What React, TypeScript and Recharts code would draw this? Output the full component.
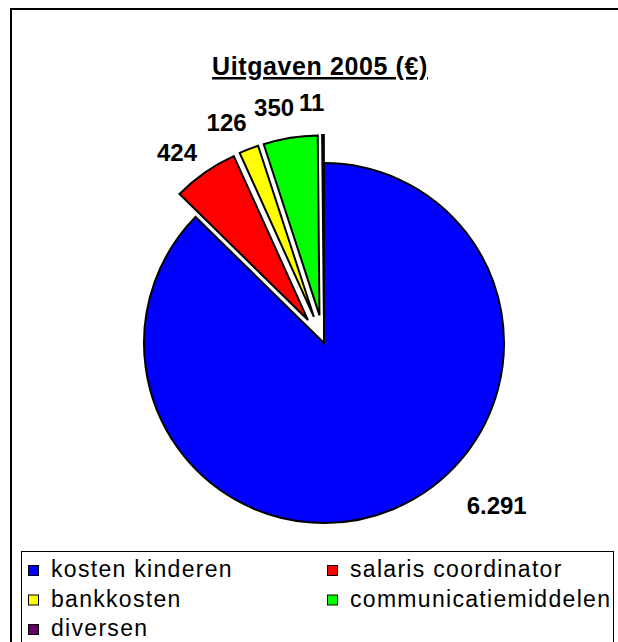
import { PieChart, Pie, Cell, Sector, Legend } from 'recharts';

const categories = ['kosten kinderen', 'salaris coordinator', 'bankkosten', 'communicatiemiddelen', 'diversen'];
const amounts = [6291, 424, 126, 350, 11];
const colors = ['#0000ff', '#ff0000', '#ffff00', '#00ff00', '#660066'];
const exploded = [false, true, true, true, true];

const data = categories.map((name, i) => ({ name, value: amounts[i] }));

const FONT = '"Liberation Sans", Arial, sans-serif';
const RADIAN = Math.PI / 180;
const EXPLODE = 28;

const formatValue = (v: number) => String(v).replace(/\B(?=(\d{3})+(?!\d))/g, '.');

const shiftFor = (name: string, midAngle: number) => {
    const idx = categories.indexOf(name);
    if (!exploded[idx]) return { dx: 0, dy: 0 };
    return {
        dx: EXPLODE * Math.cos(-midAngle * RADIAN),
        dy: EXPLODE * Math.sin(-midAngle * RADIAN),
    };
};

const ExplodedSector = (props: any) => {
    const name = props.name ?? props.payload?.name;
    const { dx, dy } = shiftFor(name, props.midAngle);
    return <Sector {...props} cx={props.cx + dx} cy={props.cy + dy} />;
};

const renderLabel = (props: any) => {
    const { cx, cy, midAngle, outerRadius, value } = props;
    const name = props.name ?? props.payload?.name;
    const big = !exploded[categories.indexOf(name)];
    const { dx, dy } = shiftFor(name, midAngle);
    const angle = (midAngle + (big ? 24 : 3)) * RADIAN;
    const r = outerRadius + (big ? 57 : 33);
    const x = cx + dx + r * Math.cos(-angle);
    const y = cy + dy + r * Math.sin(-angle);
    return (
        <text
            x={x}
            y={y}
            textAnchor="middle"
            dominantBaseline="central"
            fill="#000"
            fontFamily={FONT}
            fontWeight="bold"
            fontSize={24}
        >
            {formatValue(value)}
        </text>
    );
};

// legend drawn in data order, two columns like the original
const LegendBox = () => (
    <svg width={594} height={91} style={{ display: 'block' }}>
        <rect x={0.5} y={0.5} width={592} height={100} fill="#fff" stroke="#000" />
        {categories.map((name, i) => {
            const col = i % 2;
            const row = Math.floor(i / 2);
            const x = col === 0 ? 7 : 306;
            const base = 26 + row * 29.5;
            return (
                <g key={name}>
                    <rect x={x + 0.5} y={base - 11.5} width={10} height={10} fill={colors[i]} stroke="#000" />
                    <text x={x + 23} y={base} fontFamily={FONT} fontSize={23} letterSpacing={1.3} fill="#000">
                        {name}
                    </text>
                </g>
            );
        })}
    </svg>
);

export default function App() {
    return (
        <div style={{ position: 'absolute', left: 0, top: 0, width: 618, height: 642, background: '#fff' }}>
            <PieChart width={618} height={642} margin={{ top: 0, right: 0, bottom: 0, left: 0 }}>
                <rect x={11} y={9} width={640} height={660} fill="#fff" stroke="#000" strokeWidth={2} />
                <text
                    x={320}
                    y={75}
                    textAnchor="middle"
                    fontFamily={FONT}
                    fontWeight="bold"
                    fontSize={25}
                    letterSpacing={0.6}
                    textDecoration="underline"
                    fill="#000"
                >
                    Uitgaven 2005 (€)
                </text>
                <Pie
                    data={data}
                    dataKey="value"
                    nameKey="name"
                    cx={324}
                    cy={343}
                    outerRadius={180}
                    startAngle={90}
                    endAngle={-270}
                    stroke="#000"
                    strokeWidth={2}
                    shape={ExplodedSector}
                    label={renderLabel}
                    labelLine={false}
                    isAnimationActive={false}
                >
                    {data.map((d, i) => (
                        <Cell key={d.name} fill={colors[i]} />
                    ))}
                </Pie>
                <Legend
                    content={LegendBox}
                    wrapperStyle={{ position: 'absolute', left: 21, top: 551, width: 594, height: 91 }}
                />
            </PieChart>
        </div>
    );
}
